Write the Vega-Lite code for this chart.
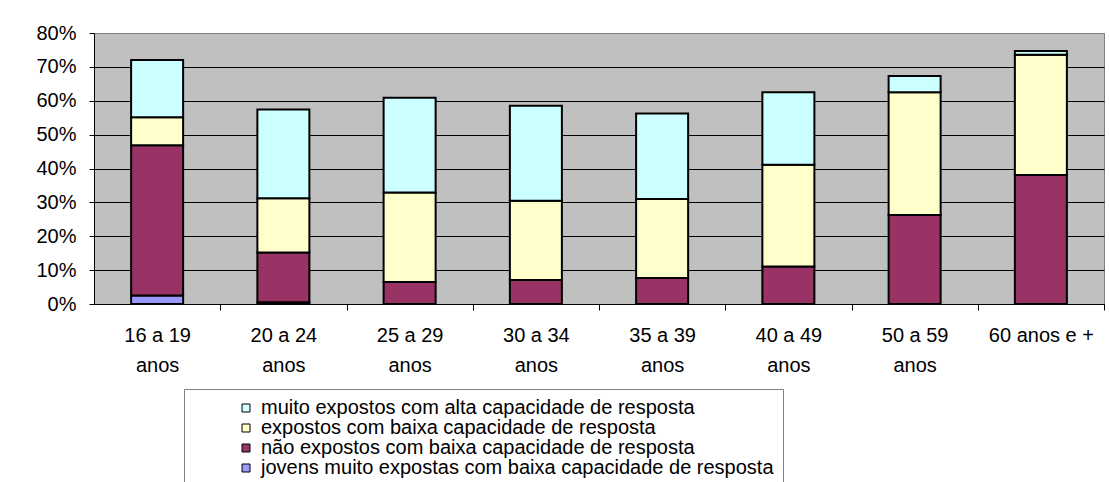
{
  "$schema": "https://vega.github.io/schema/vega-lite/v6.json",
  "width": 1010,
  "height": 271,
  "padding": {"left": 35, "top": 23, "right": 6, "bottom": 5},
  "background": "white",
  "data": {
    "values": [
      {"faixa": "16 a 19 anos", "grupo": "jovens muito expostas com baixa capacidade de resposta", "ord": 1, "valor": 2.5},
      {"faixa": "16 a 19 anos", "grupo": "não expostos com baixa capacidade de resposta", "ord": 2, "valor": 44.4},
      {"faixa": "16 a 19 anos", "grupo": "expostos com baixa capacidade de resposta", "ord": 3, "valor": 8.2},
      {"faixa": "16 a 19 anos", "grupo": "muito expostos com alta capacidade de resposta", "ord": 4, "valor": 16.9},
      {"faixa": "20 a 24 anos", "grupo": "jovens muito expostas com baixa capacidade de resposta", "ord": 1, "valor": 0.5},
      {"faixa": "20 a 24 anos", "grupo": "não expostos com baixa capacidade de resposta", "ord": 2, "valor": 14.7},
      {"faixa": "20 a 24 anos", "grupo": "expostos com baixa capacidade de resposta", "ord": 3, "valor": 16.0},
      {"faixa": "20 a 24 anos", "grupo": "muito expostos com alta capacidade de resposta", "ord": 4, "valor": 26.2},
      {"faixa": "25 a 29 anos", "grupo": "não expostos com baixa capacidade de resposta", "ord": 2, "valor": 6.5},
      {"faixa": "25 a 29 anos", "grupo": "expostos com baixa capacidade de resposta", "ord": 3, "valor": 26.4},
      {"faixa": "25 a 29 anos", "grupo": "muito expostos com alta capacidade de resposta", "ord": 4, "valor": 28.0},
      {"faixa": "30 a 34 anos", "grupo": "não expostos com baixa capacidade de resposta", "ord": 2, "valor": 7.1},
      {"faixa": "30 a 34 anos", "grupo": "expostos com baixa capacidade de resposta", "ord": 3, "valor": 23.4},
      {"faixa": "30 a 34 anos", "grupo": "muito expostos com alta capacidade de resposta", "ord": 4, "valor": 28.0},
      {"faixa": "35 a 39 anos", "grupo": "não expostos com baixa capacidade de resposta", "ord": 2, "valor": 7.7},
      {"faixa": "35 a 39 anos", "grupo": "expostos com baixa capacidade de resposta", "ord": 3, "valor": 23.3},
      {"faixa": "35 a 39 anos", "grupo": "muito expostos com alta capacidade de resposta", "ord": 4, "valor": 25.2},
      {"faixa": "40 a 49 anos", "grupo": "não expostos com baixa capacidade de resposta", "ord": 2, "valor": 11.1},
      {"faixa": "40 a 49 anos", "grupo": "expostos com baixa capacidade de resposta", "ord": 3, "valor": 30.0},
      {"faixa": "40 a 49 anos", "grupo": "muito expostos com alta capacidade de resposta", "ord": 4, "valor": 21.4},
      {"faixa": "50 a 59 anos", "grupo": "não expostos com baixa capacidade de resposta", "ord": 2, "valor": 26.3},
      {"faixa": "50 a 59 anos", "grupo": "expostos com baixa capacidade de resposta", "ord": 3, "valor": 36.2},
      {"faixa": "50 a 59 anos", "grupo": "muito expostos com alta capacidade de resposta", "ord": 4, "valor": 4.8},
      {"faixa": "60 anos e +", "grupo": "não expostos com baixa capacidade de resposta", "ord": 2, "valor": 38.1},
      {"faixa": "60 anos e +", "grupo": "expostos com baixa capacidade de resposta", "ord": 3, "valor": 35.5},
      {"faixa": "60 anos e +", "grupo": "muito expostos com alta capacidade de resposta", "ord": 4, "valor": 1.1}
    ]
  },
  "mark": {"type": "bar", "stroke": "black", "strokeWidth": 2},
  "encoding": {
    "x": {
      "field": "faixa",
      "type": "nominal",
      "sort": ["16 a 19 anos", "20 a 24 anos", "25 a 29 anos", "30 a 34 anos", "35 a 39 anos", "40 a 49 anos", "50 a 59 anos", "60 anos e +"],
      "scale": {"paddingInner": 0.588, "paddingOuter": 0.294},
      "axis": {
        "title": null,
        "labelAngle": 0,
        "tickOffset": 63.125,
        "labelOffset": -63.125,
        "tickSize": 6,
        "tickColor": "black",
        "domainColor": "black",
        "domainWidth": 1,
        "labelFont": "Liberation Sans",
        "labelFontSize": 20,
        "labelColor": "black",
        "labelPadding": 15,
        "labelLineHeight": 30,
        "labelExpr": "indexof(datum.value, 'anos e') >= 0 ? datum.value : [replace(datum.value, ' anos', ''), 'anos']"
      }
    },
    "y": {
      "field": "valor",
      "type": "quantitative",
      "stack": "zero",
      "scale": {"domain": [0, 80], "nice": false},
      "axis": {
        "title": null,
        "values": [0, 10, 20, 30, 40, 50, 60, 70, 80],
        "labelExpr": "datum.value + '%'",
        "grid": true,
        "gridColor": {"condition": {"test": "datum.value == 80", "value": "#808080"}, "value": "black"},
        "gridWidth": 1,
        "tickSize": 5,
        "tickColor": "black",
        "domainColor": "black",
        "domainWidth": 1,
        "labelFont": "Liberation Sans",
        "labelFontSize": 20,
        "labelColor": "black",
        "labelPadding": 13
      }
    },
    "color": {
      "field": "grupo",
      "type": "nominal",
      "scale": {
        "domain": [
          "muito expostos com alta capacidade de resposta",
          "expostos com baixa capacidade de resposta",
          "não expostos com baixa capacidade de resposta",
          "jovens muito expostas com baixa capacidade de resposta"
        ],
        "range": ["#CCFFFF", "#FFFFCC", "#993366", "#9999FF"]
      },
      "legend": {
        "orient": "none",
        "legendX": 90,
        "legendY": 356,
        "title": null,
        "strokeColor": "#808080",
        "fillColor": "white",
        "padding": 9,
        "symbolType": "square",
        "symbolSize": 64,
        "symbolStrokeColor": "black",
        "symbolStrokeWidth": 1,
        "symbolOffset": 43,
        "labelOffset": 5,
        "labelFont": "Liberation Sans",
        "labelFontSize": 20,
        "labelColor": "black",
        "labelLimit": 0,
        "rowPadding": 0
      }
    },
    "order": {"field": "ord", "type": "quantitative"}
  },
  "config": {
    "view": {"fill": "#C0C0C0", "stroke": "#808080", "strokeWidth": 1},
    "font": "Liberation Sans"
  }
}
